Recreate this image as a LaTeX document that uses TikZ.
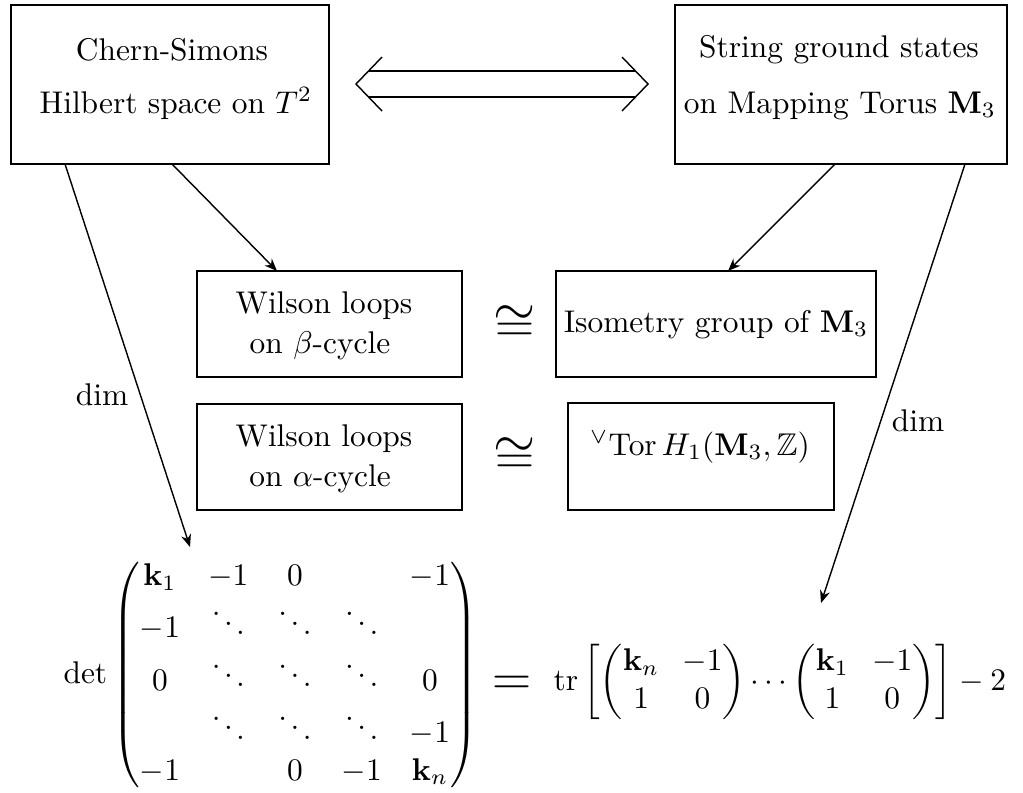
\documentclass[tikz,border=0pt]{standalone}
\usepackage{amsmath,amssymb}
\usetikzlibrary{arrows.meta,fit}
\setlength\arraycolsep{4.5pt}
\begin{document}
\begin{tikzpicture}[x=0.3185pt,y=-0.3185pt,
  boxed/.style={draw,inner sep=0pt,line width=0.45pt},
  arr/.style={-{Stealth[length=4pt,width=3.2pt]},line width=0.45pt},
  lbl/.style={inner sep=0pt,anchor=base},
  big/.style={inner sep=0pt,font=\LARGE}]
\useasboundingbox (0,0) rectangle (1023,792);
% boxes
\node[boxed,fit={(11,5)(329,164)}] (cs) {};
\node[boxed,fit={(675,5)(1007,164)}] (sg) {};
\node[boxed,fit={(197,271)(462,377)}] (wb) {};
\node[boxed,fit={(556,271)(876,377)}] (iso) {};
\node[boxed,fit={(197,404)(462,510)}] (wa) {};
\node[boxed,fit={(568,403)(834,510)}] (tor) {};
% texts
\node[lbl] (cs1) at (172,60) {Chern-Simons};
\node[lbl] (cs2) at (176,113) {Hilbert space on $T^2$};
\node[lbl] (sg1) at (839,57) {String ground states};
\node[lbl] (sg2) at (840,113) {on Mapping Torus $\mathbf{M}_3$};
\node[lbl] (wb1) at (324,313) {Wilson loops};
\node[lbl] (wb2) at (320,353) {on $\beta$-cycle};
\node[lbl] (wa1) at (324,446) {Wilson loops};
\node[lbl] (wa2) at (320,486) {on $\alpha$-cycle};
\node[lbl] (iso1) at (716,332) {Isometry group of $\mathbf{M}_3$};
\node[lbl] (tor1) at (700,455) {${}^{\vee}\mathrm{Tor}\,H_1(\mathbf{M}_3,\mathbb{Z})$};
\node[big] (c1) at (515,324) {$\cong$};
\node[big] (c2) at (515,456) {$\cong$};
\node[lbl] (dim1) at (102,405) {dim};
\node[lbl] (dim2) at (918,431) {dim};
% formula
\node[inner sep=0pt,anchor=base west] (lhs) at (63,683)
 {$\det\begin{pmatrix}
 \mathbf{k}_1 & -1 & 0 & & -1\\[-2pt]
 -1 & \ddots & \ddots & \ddots & \\[-2pt]
 0 & \ddots & \ddots & \ddots & 0\\[-2pt]
  & \ddots & \ddots & \ddots & -1\\
 -1 & & 0 & -1 & \mathbf{k}_n
 \end{pmatrix}$};
\node[big] (eq) at (512,686) {$=$};
\node[inner sep=0pt,anchor=base west] (rhs) at (553,690)
 {\arraycolsep=3.7pt$\mathrm{tr}\left[\begin{pmatrix}\mathbf{k}_n & -1\\ 1 & 0\end{pmatrix}\cdots\begin{pmatrix}\mathbf{k}_1 & -1\\ 1 & 0\end{pmatrix}\right]-2$};
% connector end points
\coordinate (csA) at (65,164);
\coordinate (csB) at (172,164);
\coordinate (sgA) at (835,164);
\coordinate (sgB) at (965,164);
\coordinate (wbT) at (277,271);
\coordinate (isoT) at (728,271);
\coordinate (lhsT) at (190,547);
\coordinate (rhsT) at (821,603);
\draw[arr] (csA) -- (lhsT);
\draw[arr] (csB) -- (wbT);
\draw[arr] (sgA) -- (isoT);
\draw[arr] (sgB) -- (rhsT);
% double arrow
\coordinate (daL) at (356,84);
\coordinate (daR) at (648,84);
\draw[line width=0.45pt] ([shift={(26,-27)}]daL) -- (daL) -- ([shift={(26,27)}]daL);
\draw[line width=0.45pt] ([shift={(-26,-27)}]daR) -- (daR) -- ([shift={(-26,27)}]daR);
\draw[line width=0.45pt] ([shift={(13,-13)}]daL) -- ([shift={(-13,-13)}]daR);
\draw[line width=0.45pt] ([shift={(13,13)}]daL) -- ([shift={(-13,13)}]daR);
\end{tikzpicture}
\end{document}
